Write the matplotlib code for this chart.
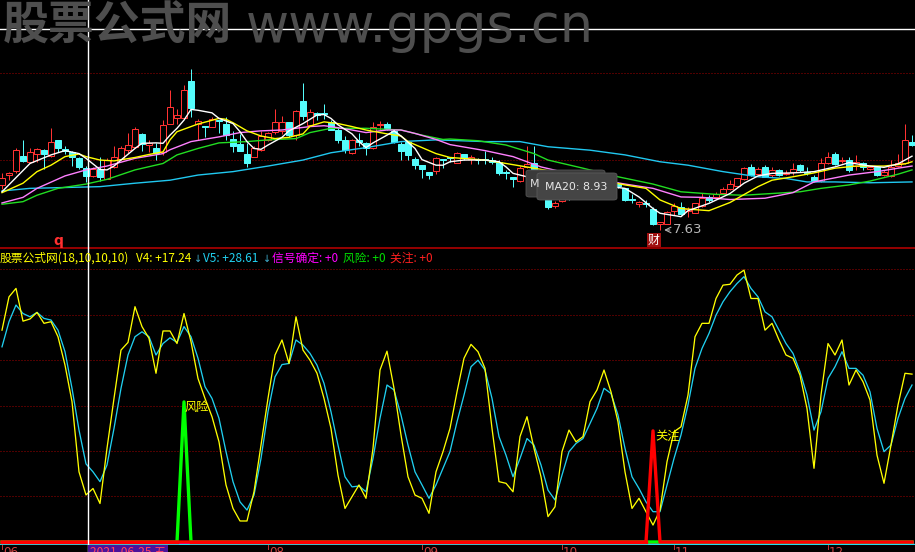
import matplotlib
matplotlib.use('Agg')
import matplotlib.pyplot as plt
from matplotlib.patches import Rectangle, FancyBboxPatch
from matplotlib.lines import Line2D

W, H = 915, 552
PX = 0.72  # one pixel in points

# ---------------- candles (131 trading days, 2021-06-08 .. 2021-12) ----------------
opens = [8.68, 8.90, 9.00, 9.35, 9.22, 9.41, 9.49, 9.36, 9.73, 9.51,
         9.45, 9.31, 9.07, 8.89, 9.04, 8.82, 9.09, 9.28, 9.49, 9.57,
         9.87, 9.62, 9.55, 9.44, 10.11, 10.25, 10.23, 11.10, 10.11, 10.05,
         10.04, 10.19, 10.10, 9.75, 9.63, 9.41, 9.34, 9.49, 9.73, 9.92,
         9.94, 10.14, 9.84, 10.63, 10.08, 10.35, 10.35, 10.15, 9.96, 9.73,
         9.43, 9.73, 9.65, 9.53, 10.08, 10.11, 9.94, 9.63, 9.69, 9.28,
         9.14, 8.97, 9.01, 9.28, 9.32, 9.20, 9.39, 9.28, 9.27, 9.28,
         9.26, 9.22, 8.98, 8.86, 8.78, 9.10, 9.20, 9.03, 8.55, 8.20,
         8.30, 8.45, 8.38, 8.55, 8.47, 8.58, 8.52, 8.45, 8.71, 8.60,
         8.35, 8.23, 8.27, 8.13, 7.77, 7.78, 8.08, 8.16, 8.08, 8.03,
         8.19, 8.39, 8.39, 8.50, 8.58, 8.65, 8.81, 9.09, 8.93, 9.10,
         8.91, 9.03, 8.93, 8.99, 9.14, 8.99, 8.86, 8.78, 9.18, 9.40,
         9.24, 9.27, 9.12, 9.20, 9.04, 9.09, 8.91, 8.89, 9.12, 9.18, 9.69]
highs = [8.95, 8.98, 9.55, 9.73, 9.53, 9.55, 9.51, 10.00, 9.73, 9.59,
         9.48, 9.34, 9.12, 9.10, 9.32, 9.30, 9.59, 9.59, 9.90, 10.04,
         9.90, 9.73, 9.65, 10.19, 10.89, 10.45, 11.01, 11.38, 10.21, 10.05,
         10.27, 10.19, 10.27, 9.94, 9.87, 9.66, 9.59, 9.94, 9.92, 10.44,
         10.28, 10.14, 10.42, 11.05, 10.44, 10.39, 10.56, 10.19, 10.00, 9.82,
         9.74, 9.88, 9.69, 10.15, 10.18, 10.15, 9.98, 9.69, 9.70, 9.32,
         9.14, 8.99, 9.32, 9.28, 9.34, 9.45, 9.39, 9.38, 9.31, 9.48,
         9.34, 9.26, 9.03, 8.87, 9.12, 9.59, 9.59, 9.05, 8.60, 8.30,
         8.50, 8.52, 8.60, 8.62, 8.64, 8.62, 8.56, 8.50, 8.74, 8.62,
         8.48, 8.31, 8.33, 8.17, 7.81, 8.08, 8.25, 8.29, 8.17, 8.26,
         8.50, 8.44, 8.52, 8.64, 8.79, 8.83, 9.09, 9.17, 9.09, 9.14,
         9.09, 9.04, 9.03, 9.18, 9.17, 9.09, 8.91, 9.30, 9.45, 9.45,
         9.34, 9.34, 9.38, 9.22, 9.12, 9.12, 9.03, 9.26, 9.40, 10.10, 9.84]
lows = [8.58, 8.79, 8.95, 9.22, 9.18, 9.22, 9.04, 9.34, 9.45, 9.41,
        9.12, 9.04, 8.75, 8.86, 8.78, 8.81, 9.07, 9.26, 9.43, 9.55,
        9.48, 9.45, 9.26, 9.38, 10.10, 10.11, 10.21, 10.27, 9.73, 9.80,
        10.04, 9.90, 9.73, 9.45, 9.48, 9.10, 9.32, 9.48, 9.71, 9.87,
        9.87, 9.80, 9.73, 10.19, 10.05, 10.19, 10.21, 9.96, 9.65, 9.43,
        9.41, 9.59, 9.38, 9.51, 9.96, 9.96, 9.66, 9.27, 9.27, 9.04,
        8.83, 8.82, 8.93, 9.07, 9.22, 9.18, 9.26, 9.17, 9.17, 9.17,
        9.17, 8.91, 8.81, 8.64, 8.75, 9.07, 8.91, 8.85, 8.12, 8.15,
        8.28, 8.34, 8.36, 8.44, 8.45, 8.46, 8.40, 8.36, 8.60, 8.30,
        8.27, 8.17, 8.17, 7.75, 7.63, 7.76, 7.98, 7.98, 7.94, 8.02,
        8.17, 8.29, 8.37, 8.48, 8.56, 8.64, 8.79, 8.89, 8.91, 8.86,
        8.86, 8.89, 8.91, 8.91, 8.99, 8.91, 8.75, 8.75, 9.17, 9.14,
        9.18, 8.99, 9.03, 9.03, 9.03, 8.89, 8.89, 8.87, 9.10, 9.17, 9.59]
closes = [8.85, 8.96, 9.49, 9.24, 9.44, 9.51, 9.39, 9.69, 9.55, 9.47,
          9.32, 9.09, 8.89, 9.04, 8.87, 9.26, 9.32, 9.55, 9.61, 9.98,
          9.63, 9.65, 9.43, 10.08, 10.49, 10.32, 10.89, 10.48, 10.18, 10.04,
          10.21, 10.17, 9.84, 9.59, 9.48, 9.20, 9.55, 9.82, 9.88, 10.14,
          10.14, 9.84, 10.41, 10.29, 10.39, 10.32, 10.33, 9.97, 9.73, 9.49,
          9.73, 9.69, 9.53, 10.04, 10.11, 10.00, 9.69, 9.48, 9.38, 9.14,
          9.04, 8.91, 9.30, 9.26, 9.30, 9.43, 9.30, 9.32, 9.25, 9.27,
          9.22, 8.95, 8.95, 8.81, 9.07, 9.16, 9.03, 8.90, 8.17, 8.27,
          8.45, 8.38, 8.55, 8.48, 8.58, 8.50, 8.44, 8.40, 8.65, 8.33,
          8.32, 8.29, 8.24, 7.77, 7.81, 8.06, 8.19, 8.00, 8.13, 8.26,
          8.37, 8.34, 8.48, 8.58, 8.70, 8.83, 9.07, 8.91, 9.04, 8.87,
          9.03, 8.91, 8.96, 9.04, 9.03, 8.95, 8.78, 9.18, 9.34, 9.17,
          9.27, 9.03, 9.21, 9.10, 9.09, 8.91, 8.99, 9.10, 9.20, 9.73, 9.61]

# moving averages read at selected bars (bar index, price)
ma5_idx = [0, 4, 7, 9, 11, 12, 14, 15, 16, 17, 19, 20, 22, 23, 24, 25, 26, 27, 28, 30,
           31, 33, 34, 35, 36, 37, 38, 40, 41, 43, 44, 45, 46, 47, 48, 50, 51, 52, 53, 55,
           56, 57, 59, 60, 62, 63, 64, 66, 69, 71, 72, 73, 75, 89, 91, 93, 94, 97, 98, 101,
           104, 106, 108, 110, 113, 116, 119, 121, 124, 126, 128, 130]
ma5_val = [8.52, 9.18, 9.38, 9.48, 9.41, 9.30, 9.04, 9.03, 9.12, 9.26, 9.53, 9.65, 9.66, 9.65,
           9.84, 10.00, 10.19, 10.44, 10.42, 10.36, 10.23, 10.11, 9.92, 9.69, 9.53, 9.51, 9.61,
           9.79, 9.94, 10.11, 10.21, 10.31, 10.32, 10.23, 10.08, 9.87, 9.69, 9.55, 9.66, 9.84,
           9.94, 9.82, 9.53, 9.27, 9.14, 9.14, 9.22, 9.26, 9.26, 9.22, 9.10, 8.95, 8.87, 8.60,
           8.40, 8.13, 8.02, 7.94, 8.08, 8.25, 8.48, 8.72, 8.89, 8.95, 8.96, 8.99, 9.10, 9.20,
           9.12, 9.09, 9.17, 9.35]
ma10_idx = [0, 3, 5, 7, 9, 11, 12, 14, 16, 19, 21, 23, 24, 25, 27, 28, 31, 32, 33, 35,
            37, 39, 41, 43, 44, 46, 48, 50, 52, 55, 57, 58, 60, 62, 64, 69, 72, 76, 83, 89,
            92, 94, 97, 101, 104, 108, 110, 113, 116, 119, 122, 126, 129, 130]
ma10_val = [8.50, 8.72, 8.99, 9.14, 9.34, 9.40, 9.34, 9.26, 9.24, 9.32, 9.39, 9.45, 9.73, 9.92,
            10.04, 10.10, 10.23, 10.21, 10.13, 9.94, 9.82, 9.76, 9.79, 9.87, 10.05, 10.15, 10.11,
            10.04, 9.96, 9.87, 9.82, 9.69, 9.55, 9.41, 9.32, 9.26, 9.18, 9.07, 8.87, 8.68, 8.60,
            8.33, 8.13, 8.08, 8.27, 8.64, 8.79, 8.87, 8.96, 9.07, 9.12, 9.12, 9.17, 9.22]
ma20_idx = [0, 3, 5, 9, 12, 15, 19, 23, 24, 27, 31, 34, 37, 40, 44, 46, 47, 50, 52, 55,
            57, 59, 62, 64, 69, 73, 77, 83, 89, 93, 97, 100, 104, 109, 113, 116, 121, 125, 128, 130]
ma20_val = [8.26, 8.39, 8.60, 8.89, 9.03, 9.12, 9.30, 9.41, 9.50, 9.69, 9.80, 9.90, 9.94, 9.96,
            10.04, 10.06, 10.04, 9.96, 9.90, 9.96, 9.96, 9.88, 9.74, 9.62, 9.48, 9.34, 9.10, 8.87,
            8.70, 8.60, 8.40, 8.39, 8.34, 8.37, 8.50, 8.75, 8.91, 8.99, 9.07, 9.12]
ma30_idx = [0, 3, 5, 8, 12, 15, 19, 23, 25, 28, 31, 35, 38, 42, 44, 47, 52, 57, 60, 63,
            64, 68, 72, 76, 78, 83, 88, 93, 97, 102, 106, 110, 114, 117, 121, 124, 128, 130]
ma30_val = [8.23, 8.29, 8.44, 8.60, 8.70, 8.81, 9.03, 9.18, 9.38, 9.53, 9.66, 9.69, 9.73, 9.76,
            9.90, 10.00, 10.00, 9.96, 9.84, 9.74, 9.75, 9.71, 9.61, 9.41, 9.26, 9.07, 8.87, 8.70,
            8.52, 8.46, 8.44, 8.48, 8.52, 8.60, 8.68, 8.77, 8.93, 9.03]
ma60_idx = [0, 4, 9, 14, 19, 24, 28, 33, 38, 43, 47, 52, 57, 62, 69, 74, 78, 84, 89, 94,
            98, 103, 108, 112, 115, 119, 124, 130]
ma60_val = [8.54, 8.60, 8.62, 8.64, 8.72, 8.79, 8.91, 8.99, 9.12, 9.26, 9.43, 9.55, 9.69, 9.73,
            9.69, 9.69, 9.57, 9.49, 9.38, 9.22, 9.14, 8.99, 8.87, 8.83, 8.75, 8.75, 8.73, 8.75]

# ---------------- indicator ----------------
v4 = [77.6, 89.8, 92.9, 80.9, 81.7, 84.1, 80.1, 80.7, 75.2, 64.8,
      51.4, 25.7, 17.24, 19.6, 14.1, 34.3, 52.6, 70.3, 73.1, 86.2,
      78.9, 74.6, 61.8, 77.3, 77.3, 72.7, 83.7, 73.4, 59.9, 52.6,
      45.9, 36.7, 20.9, 12.3, 7.7, 7.7, 18.4, 35.5, 52.6, 68.5,
      74.0, 65.4, 82.5, 70.3, 66.6, 61.8, 52.6, 41.6, 24.5, 12.3,
      16.6, 20.9, 16.0, 34.3, 63.0, 69.9, 56.3, 39.2, 23.9, 17.2,
      16.0, 10.5, 25.7, 33.1, 41.6, 55.0, 67.3, 72.4, 69.7, 63.6,
      41.6, 22.1, 21.5, 18.4, 38.6, 45.9, 34.3, 23.9, 9.3, 12.9,
      33.1, 41.0, 36.7, 38.6, 51.4, 55.7, 63.0, 55.0, 44.0, 25.7,
      12.3, 16.0, 11.1, 6.2, 11.7, 29.4, 40.4, 42.2, 53.8, 75.2,
      80.1, 80.1, 89.2, 94.1, 94.4, 97.8, 99.6, 89.2, 89.2, 77.6,
      80.1, 74.0, 68.5, 67.3, 61.1, 48.9, 27.0, 53.8, 72.7, 68.5,
      74.0, 57.5, 63.0, 58.7, 52.0, 31.8, 21.5, 35.5, 50.2, 61.8, 61.5]
v5 = [71.5, 80.7, 86.8, 83.7, 82.5, 84.1, 81.9, 81.3, 77.6, 69.7,
      56.3, 41.0, 28.61, 25.7, 22.1, 28.2, 41.6, 56.3, 68.5, 75.2,
      77.0, 75.2, 68.5, 72.7, 74.8, 73.1, 78.9, 75.2, 67.3, 56.9,
      52.6, 45.3, 33.1, 22.1, 14.7, 11.7, 17.2, 30.6, 47.7, 60.5,
      65.0, 65.4, 74.0, 72.1, 69.1, 64.8, 58.1, 47.7, 35.5, 23.9,
      20.2, 20.5, 18.4, 30.6, 45.3, 57.5, 55.7, 46.5, 35.5, 25.7,
      20.9, 16.0, 20.9, 27.0, 33.1, 44.0, 53.8, 64.2, 66.6, 63.0,
      52.6, 38.6, 31.8, 23.9, 30.6, 37.9, 35.5, 28.2, 19.0, 15.4,
      24.5, 33.1, 36.1, 37.9, 43.4, 48.9, 56.3, 54.4, 46.5, 34.3,
      23.9, 19.6, 14.7, 11.1, 11.1, 20.9, 30.6, 39.2, 50.2, 63.6,
      70.9, 76.4, 83.1, 88.0, 91.7, 94.7, 97.2, 92.9, 89.8, 84.3,
      82.5, 77.6, 72.7, 69.1, 62.4, 53.8, 41.0, 47.7, 59.9, 64.2,
      69.7, 63.6, 63.6, 61.1, 55.0, 41.6, 33.1, 35.5, 45.3, 52.6, 57.5]
risk_idx = [0, 25, 26, 27, 130]
risk_val = [0, 0, 51.3, 0, 0]
watch_idx = [0, 92, 93, 94, 130]
watch_val = [0, 0, 40.7, 0, 0]

month_idx = [0, 38, 60, 80, 96, 118]
month_lbl = ['06', '08', '09', '10', '11', '12']

RED = '#ff3232'
CYAN = '#54fcfc'
cjk = ['Noto Sans CJK SC', 'DejaVu Sans']

fig = plt.figure(figsize=(W / 100, H / 100), dpi=100, facecolor='black')


def fx(x):
    return x / W


def fy(y):
    return 1 - y / H


xlim = (-2 / 7, 913 / 7)
ax1 = fig.add_axes([0, fy(248), 1, 248 / H])
ax2 = fig.add_axes([0, fy(545), 1, 296 / H])
for ax in (ax1, ax2):
    ax.set_facecolor('black')
    ax.set_xlim(*xlim)
    ax.axis('off')
ax1.set_ylim(7.21, 12.99)
ax2.set_ylim(-1.10, 107.33)

# main panel
for g in (11.28, 9.26):
    ax1.axhline(g, color='#a00000', lw=PX, ls=(0, (1, 2)))
bw = 0.72
for i in range(len(opens)):
    o, h, l, c = opens[i], highs[i], lows[i], closes[i]
    if c > o:
        ax1.vlines(i, l, o, color=RED, lw=PX)
        ax1.vlines(i, c, h, color=RED, lw=PX)
        ax1.add_patch(Rectangle((i - bw / 2, o), bw, c - o, facecolor='black',
                                edgecolor=RED, lw=PX, zorder=3))
    else:
        ax1.vlines(i, l, h, color=CYAN, lw=PX)
        ax1.add_patch(Rectangle((i - bw / 2, c), bw, max(o - c, 0.012), facecolor=CYAN,
                                edgecolor=CYAN, lw=PX, zorder=3))

ax1.plot(ma60_idx, ma60_val, color='#20c8f0', lw=1.0, zorder=4)
ax1.plot(ma30_idx, ma30_val, color='#22dd22', lw=1.0, zorder=4)
ax1.plot(ma20_idx, ma20_val, color='#ff80ff', lw=1.0, zorder=4)
ax1.plot(ma10_idx, ma10_val, color='#ffff00', lw=1.0, zorder=4)
ax1.plot(ma5_idx, ma5_val, color='white', lw=1.0, zorder=4)

ax1.annotate('', xy=(94.2, 7.63), xytext=(95.8, 7.63),
             arrowprops=dict(arrowstyle='->', color='#b0b0b0', lw=0.8), zorder=5)
ax1.text(95.9, 7.63, '7.63', color='#b8b8b8', fontsize=9.5, va='center', ha='left')

# indicator panel
for k in range(1, 7):
    ax2.axhline(100 * k / 6, color='#a00000', lw=PX, ls=(0, (1, 2)))
ax2.plot(range(len(v5)), v5, color='#20d0f0', lw=PX * 1.3)
ax2.plot(range(len(v4)), v4, color='#ffff00', lw=PX * 1.3)
ax2.axhline(-0.8, color='#20e0f0', lw=1.0)
ax2.plot([0, 130], [0, 0], color='#ff00ff', lw=2.0)
ax2.plot(risk_idx, risk_val, color='#00ff00', lw=2.4)
ax2.plot(watch_idx, watch_val, color='#ff0000', lw=2.4)
ax2.plot([0, 25], [0, 0], color='#ff0000', lw=2.4)
ax2.plot([27, 92], [0, 0], color='#ff0000', lw=2.4)
ax2.text(26.1, 51.8, '风险', color='#ffff00', fontsize=8.8, va='top', ha='left', family=cjk)
ax2.text(93.3, 41.2, '关注', color='#ffff00', fontsize=8.8, va='top', ha='left', family=cjk)

# separator
fig.add_artist(Line2D([0, 1], [fy(248.5), fy(248.5)], color='#b00000', lw=1.2))

# title of indicator
title_parts = [(0, '股票公式网(18,10,10,10)', '#ffff00'),
               (136, 'V4: +17.24', '#ffff00'),
               (203, 'V5: +28.61', '#20d0f0'),
               (272, '信号确定: +0', '#ff00ff'),
               (343, '风险: +0', '#00e000'),
               (390, '关注: +0', '#ff2020')]
for x, s, col in title_parts:
    fig.text(fx(x), fy(258), s, color=col, fontsize=8.5, va='center', ha='left', family=cjk)
for x in (194, 263):
    fig.text(fx(x), fy(259), '↓', color='#40b0d0', fontsize=7, va='center', ha='left',
             family=['DejaVu Sans'])

# bottom date axis
for i, lbl in zip(month_idx, month_lbl):
    xp = 2 + 7 * i
    fig.add_artist(Line2D([fx(xp), fx(xp)], [fy(545), fy(549)], color='#c03030', lw=PX))
    fig.text(fx(xp + 1), fy(546), lbl, color='#d04040', fontsize=8.6, va='top', ha='left')
fig.add_artist(Rectangle((fx(88), 0), fx(80), fy(545), transform=fig.transFigure,
                         facecolor='#4a129a', edgecolor='none', zorder=5))
fig.text(fx(90), fy(546), '2021-06-25 五', color='#ff4060', fontsize=8.6, va='top',
         ha='left', family=cjk, zorder=6)

# markers under price panel
fig.text(fx(58), fy(241), 'q', color='#ff3030', fontsize=10, fontweight='bold',
         ha='center', va='center')
fig.text(fx(654), fy(240), '财', color='white', fontsize=8.6, ha='center', va='center',
         family=cjk, bbox=dict(facecolor='#a01010', edgecolor='none', pad=0.6))

# tooltip
fig.add_artist(FancyBboxPatch((fx(526), fy(197)), fx(79), 27 / H, transform=fig.transFigure,
                              boxstyle='round,pad=0,rounding_size=0.004',
                              facecolor='#3a3a3a', edgecolor='#555555', lw=0.6))
fig.text(fx(530), fy(184), 'M', color='#e0e0e0', fontsize=7.9, va='center', ha='left')
fig.add_artist(FancyBboxPatch((fx(537), fy(200)), fx(80), 27 / H, transform=fig.transFigure,
                              boxstyle='round,pad=0,rounding_size=0.004',
                              facecolor='#454545', edgecolor='#5a5a5a', lw=0.6))
fig.text(fx(545), fy(187), 'MA20: 8.93', color='#e8e8e8', fontsize=7.9, va='center', ha='left')

# watermark
fig.text(fx(3), fy(27), '股票公式网', color='#4e4e4e', fontsize=33, fontweight='bold',
         va='center', ha='left', family=cjk)
fig.text(fx(246), fy(27), 'www.gpgs.cn', color='#4e4e4e', fontsize=38,
         va='center', ha='left', family=['DejaVu Sans'])

# crosshair
fig.add_artist(Line2D([fx(88), fx(88)], [0, 1], color='white', lw=1.0))
fig.add_artist(Line2D([0, 1], [fy(28.5), fy(28.5)], color='white', lw=1.0))

fig.savefig('out.png', dpi=100, facecolor='black')
